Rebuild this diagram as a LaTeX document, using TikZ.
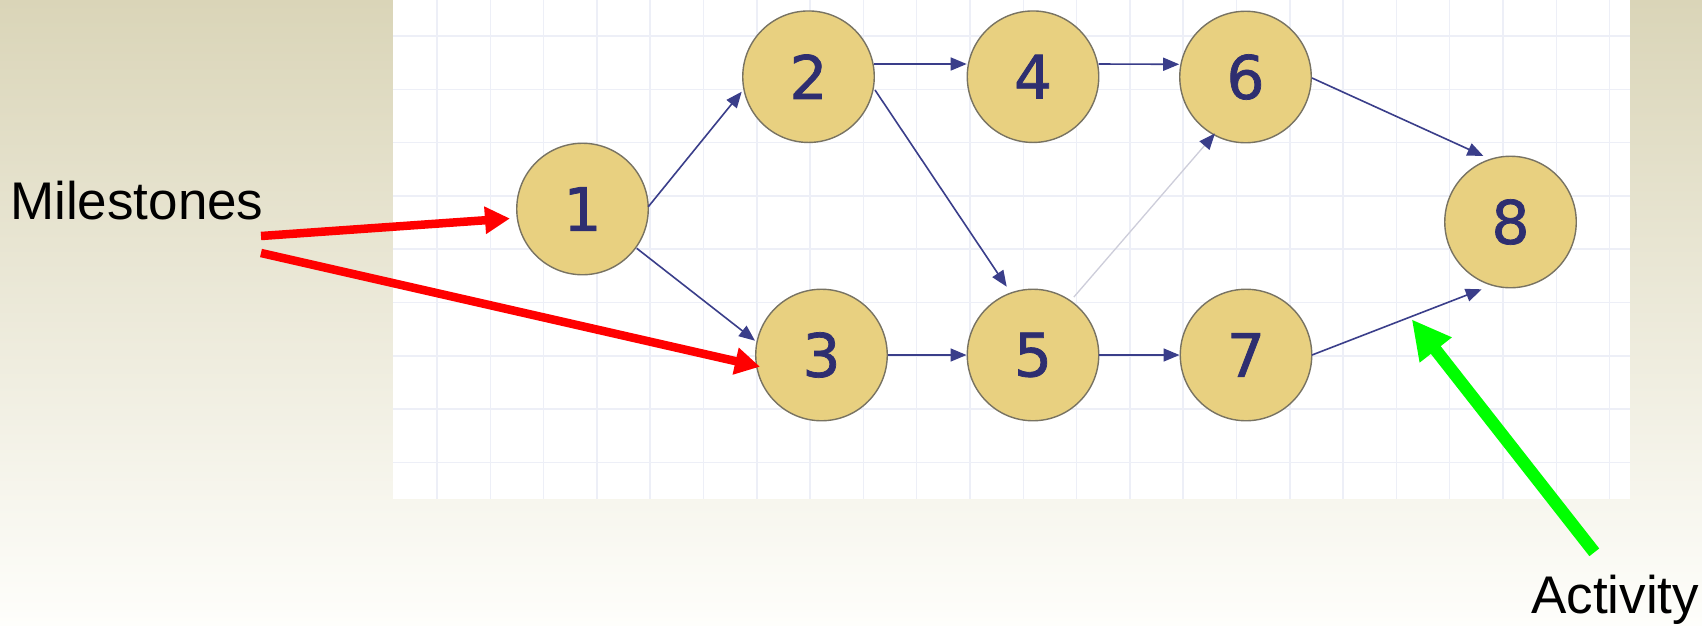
\documentclass[tikz,border=0pt]{standalone}
\usepackage{fontspec}
\setmainfont{Liberation Sans}
\newfontfamily\digitfont[FakeBold=1.2]{DejaVu Sans}
\usetikzlibrary{arrows.meta,calc}

\definecolor{bgtop}{RGB}{218,213,184}
\definecolor{bgbot}{RGB}{254,254,251}
\definecolor{gridc}{RGB}{237,239,247}
\definecolor{nodefill}{RGB}{232,208,128}
\definecolor{nodeedge}{RGB}{120,115,98}
\definecolor{navy}{RGB}{58,62,138}
\definecolor{digitc}{RGB}{46,46,112}
\definecolor{faint}{RGB}{205,205,218}
\definecolor{redc}{RGB}{255,0,0}
\definecolor{greenc}{RGB}{0,255,0}

\begin{document}
\begin{tikzpicture}[x=1pt,y=-1pt,
  milestone/.style={circle, draw=nodeedge, line width=1.4pt, fill=nodefill,
    minimum size=131.5pt, inner sep=0pt,
    font=\digitfont\fontsize{60}{60}\selectfont, text=digitc},
  actline/.style={draw=navy, line width=1.6pt, -{Triangle[length=16pt,width=13pt]}},
  faintline/.style={draw=faint, line width=1.3pt, -{Triangle[length=16pt,width=13pt,color=navy]}},
  redarrow/.style={draw=redc, line width=8.5pt, -{Triangle[length=25pt,width=26pt]}},
  greenarrow/.style={draw=greenc, line width=12.5pt, -{Triangle[length=39pt,width=38pt]}},
  label/.style={anchor=base west, inner sep=0pt, font=\fontsize{53}{53}\selectfont, text=black},
  gridline/.style={draw=gridc, line width=1.5pt}
]
\useasboundingbox (0,0) rectangle (1702,625);
\shade[top color=bgtop, bottom color=bgbot] (0,0) rectangle (1702,625);
\fill[white] (393,0) rectangle (1630,499);
\foreach \k in {0,...,22} {
  \draw[gridline] ({437+53.3*\k},0) -- ({437+53.3*\k},499);
}
\foreach \k in {0,...,8} {
  \draw[gridline] (393,{36+53.3*\k}) -- (1630,{36+53.3*\k});
}

\node[milestone] (n1) at (582.5,209) {1};
\node[milestone] (n2) at (808.5,76.7) {2};
\node[milestone] (n3) at (821.5,355) {3};
\node[milestone] (n4) at (1033,76.7) {4};
\node[milestone] (n5) at (1033,355) {5};
\node[milestone] (n6) at (1245.5,77) {6};
\node[milestone] (n7) at (1246,355) {7};
\node[milestone] (n8) at (1510.5,222) {8};

\draw[actline] ($(n1)+(65.8,-2.3)$) -- ($(n2)+(-66.8,15)$);
\draw[actline] ($(n1)+(54.2,39.3)$) -- ($(n3)+(-66.5,-14.3)$);
\draw[actline] ($(n2)+(65.5,-12.7)$) -- ($(n4)+(-66.3,-12.7)$);
\draw[actline] ($(n4)+(65.5,-12.7)$) -- ($(n6)+(-66.3,-12.7)$);
\draw[actline] ($(n2)+(66.5,13.3)$) -- ($(n5)+(-26.3,-68.3)$);
\draw[actline] ($(n3)+(66,0)$) -- ($(n5)+(-66.5,0)$);
\draw[actline] ($(n5)+(66,0)$) -- ($(n7)+(-66.5,0)$);
\draw[faintline] ($(n5)+(40.9,-58)$) -- ($(n6)+(-30.6,56.5)$);
\draw[actline] ($(n6)+(66.5,1)$) -- ($(n8)+(-27.1,-66)$);
\draw[actline] ($(n7)+(66,0)$) -- ($(n8)+(-28.8,67.3)$);

\node[label] (ms) at (10,219) {Milestones};
\node[label] (ac) at (1531,613) {Activity};

\coordinate (r1) at (261,236);
\coordinate (r2) at (261,253);
\draw[redarrow] (r1) -- ($(n1)+(-72.5,9.5)$);
\draw[redarrow] (r2) -- ($(n3)+(-61.5,11.7)$);

\coordinate (gtail) at (1594.3,552.3);
\coordinate (gtip) at (1411.7,319.3);
\draw[greenarrow] (gtail) -- (gtip);
\end{tikzpicture}
\end{document}
